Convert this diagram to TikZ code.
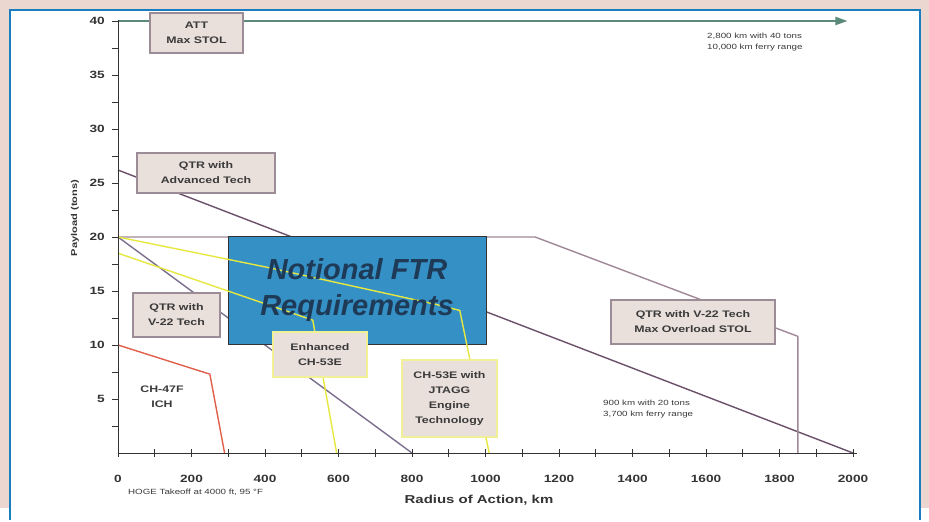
\documentclass[tikz,border=0pt]{standalone}
\usepackage{graphicx}
\usepackage{fontspec}
\setmainfont{Liberation Sans}
\newcommand\wl[1]{\scalebox{1.3}[1]{#1}}
\usetikzlibrary{arrows.meta}
\definecolor{bgpink}{HTML}{ECD7D0}
\definecolor{framblue}{HTML}{1A7DC0}
\definecolor{boxfill}{HTML}{E9DFDB}
\definecolor{qbord}{HTML}{9C8C98}
\definecolor{ybord}{HTML}{F2F096}
\definecolor{txtgray}{HTML}{3A3A3A}
\definecolor{advline}{HTML}{6B5069}
\definecolor{vline}{HTML}{7C6E8E}
\definecolor{maxline}{HTML}{A08898}
\definecolor{yline}{HTML}{E6E840}
\definecolor{redline}{HTML}{E0604A}
\definecolor{attline}{HTML}{5C8A7A}
\definecolor{ftrfill}{HTML}{3590C5}
\definecolor{ftrtext}{HTML}{1E3A57}
\definecolor{axisgray}{HTML}{333333}
\begin{document}
\begin{tikzpicture}[x=1pt,y=-1pt,
  lblbox/.style={fill=boxfill, line width=1.4pt, inner sep=0pt, align=center,
    text=txtgray, font=\bfseries\fontsize{9.5}{15}\selectfont},
  qbox/.style={lblbox, draw=qbord},
  ybox/.style={lblbox, draw=ybord},
  ticklbl/.style={font=\bfseries\fontsize{10.5}{12}\selectfont, text=axisgray, inner sep=0pt},
  note/.style={font=\fontsize{7.5}{11}\selectfont, text=txtgray, align=left, inner sep=0pt},
  curve/.style={line width=1.4pt, line join=round}
]
% background and frame
\fill[bgpink] (0,0) rectangle (929,508);
\fill[white] (10,10) rectangle (920,520);
\draw[framblue, line width=2.5pt] (10,520) -- (10,10) -- (920,10) -- (920,520);
\useasboundingbox (0,0) rectangle (929,508);

% data scope: km, tons
\begin{scope}[shift={(118,453)}, x=0.3675pt, y=10.8pt]
  % lines behind the requirements box
  \draw[curve, advline] (0,26.2) -- (2000,0);
  \draw[curve, vline] (0,20) -- (800,0);
  \draw[curve, maxline] (0,20) -- (1135,20) -- (1850,10.8) -- (1850,0);
  % requirements box
  \node[draw=axisgray, line width=0.8pt, fill=ftrfill, minimum width=257.3pt, minimum height=108pt,
        inner sep=0pt, anchor=south west] (ftr) at (300,10) {};
  % lines over the box
  \draw[curve, yline] (0,20) -- (405,17.2) -- (860,13.8) -- (930,13.2) -- (1010,0);
  \draw[curve, yline] (0,18.5) -- (530,12.3) -- (595,0);
  \draw[curve, redline] (0,10) -- (250,7.3) -- (290,0);
  % ATT line
  \coordinate (attstart) at (0,40);
  \coordinate (attend) at (1985,40);
  \draw[attline, line width=2pt, -{Triangle[length=12pt,width=8pt]}] (attstart) -- (attend);
\end{scope}

\node[font=\bfseries\itshape\fontsize{29}{36}\selectfont, text=ftrtext, align=center] (ftrtxt)
  at (357,290) {Notional FTR\\Requirements};

% axes
\coordinate (orig) at (118,453);
\coordinate (ytop) at (118,20);
\coordinate (xend) at (857,453);
\draw[axisgray, line width=1pt] (ytop) -- (orig) -- (xend);
\foreach \i in {0,...,20} {
  \draw[axisgray, line width=0.8pt] ({118+\i*36.75},449) -- ({118+\i*36.75},457);
}
\foreach \i in {1,...,16} {
  \draw[axisgray, line width=0.8pt] (112,{453-\i*27}) -- (119,{453-\i*27});
}
\foreach \v/\px in {0/118,200/191.5,400/265,600/338.5,800/412,1000/485.5,1200/559,1400/632.5,1600/706,1800/779.5,2000/853} {
  \node[ticklbl] (xl\v) at (\px,479) {\wl{\v}};
}
\foreach \v in {5,10,...,40} {
  \node[ticklbl, anchor=east] (yl\v) at (105,{453-\v*10.8}) {\wl{\v}};
}
\node[font=\bfseries\fontsize{11.5}{13}\selectfont, text=axisgray] (xtitle) at (479,500) {\wl{Radius of Action, km}};
\node[font=\bfseries\fontsize{8.5}{10}\selectfont, text=axisgray, rotate=90] (ytitle) at (75,218) {\wl{Payload (tons)}};

% label boxes
\node[qbox, minimum width=93pt, minimum height=40pt] (att) at (196.5,33) {\wl{ATT}\\\wl{Max STOL}};
\node[qbox, minimum width=138pt, minimum height=40pt] (qadv) at (206,173) {\wl{QTR with}\\\wl{Advanced Tech}};
\node[qbox, minimum width=87pt, minimum height=44pt] (qv22) at (176.5,315) {\wl{QTR with}\\\wl{V-22 Tech}};
\node[ybox, minimum width=94pt, minimum height=45pt] (ench) at (320,354.5) {\wl{Enhanced}\\\wl{CH-53E}};
\node[ybox, minimum width=95pt, minimum height=77pt] (jtagg) at (449.5,398.5) {\wl{CH-53E with}\\\wl{JTAGG}\\\wl{Engine}\\\wl{Technology}};
\node[qbox, minimum width=164pt, minimum height=44pt] (qmax) at (693,322) {\wl{QTR with V-22 Tech}\\\wl{Max Overload STOL}};
\node[align=center, text=txtgray, font=\bfseries\fontsize{9.5}{15}\selectfont] (ch47) at (162,397) {\wl{CH-47F}\\\wl{ICH}};

% notes
\node[note, anchor=west] (n1) at (707,42) {\wl{2,800 km with 40 tons}\\\wl{10,000 km ferry range}};
\node[note, anchor=west] (n2) at (603,409) {\wl{900 km with 20 tons}\\\wl{3,700 km ferry range}};
\node[note, anchor=west] (n3) at (128,492) {\wl{HOGE Takeoff at 4000 ft, 95 °F}};
\end{tikzpicture}
\end{document}
